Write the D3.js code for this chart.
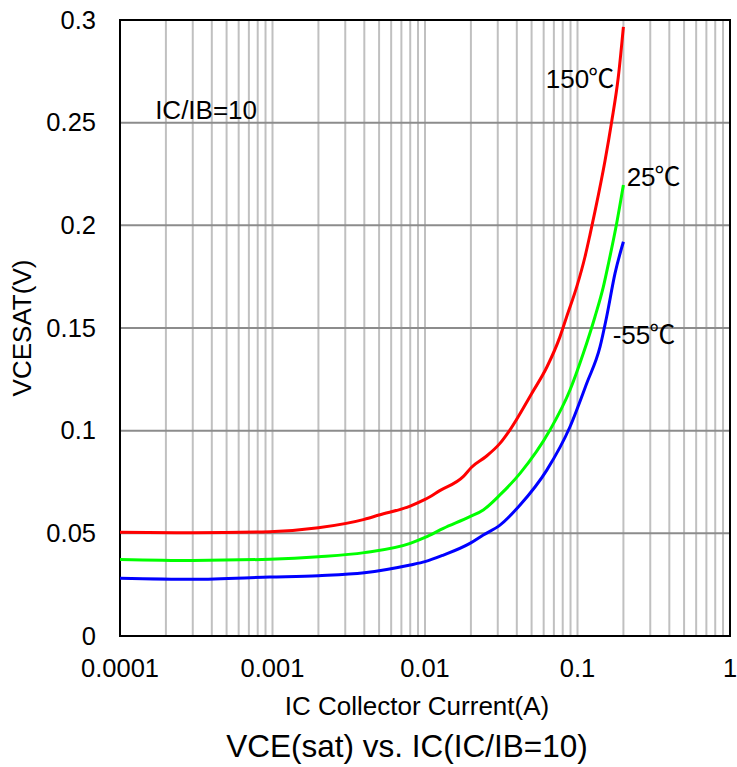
<!DOCTYPE html>
<html>
<head>
<meta charset="utf-8">
<script src="https://cdn.jsdelivr.net/npm/d3@7"></script>
<style>
  body { margin: 0; background: #fff; }
  text { font-family: "Liberation Sans", Arial, "Noto Sans CJK JP", sans-serif; fill: #000; }
  .deg { font-family: "Noto Sans CJK JP", sans-serif; }
</style>
</head>
<body>
<div class="chart"></div>
<script>
"use strict";

const MARGIN = { top: 20, right: 7, bottom: 131, left: 120 };
const WIDTH = 737 - MARGIN.left - MARGIN.right,
  HEIGHT = 767 - MARGIN.top - MARGIN.bottom;

// x tick labels (log axis) and y ticks
const xTicks = [0.0001, 0.001, 0.01, 0.1, 1];
const xTickLabels = ["0.0001", "0.001", "0.01", "0.1", "1"];
const yTicks = [0, 0.05, 0.1, 0.15, 0.2, 0.25, 0.3];
const yTickLabels = ["0", "0.05", "0.1", "0.15", "0.2", "0.25", "0.3"];

// IC (A) -> VCE(sat) (V)
const ic150 = [0.0001, 0.0003, 0.00096, 0.002, 0.004, 0.005, 0.008, 0.01, 0.0125, 0.0178, 0.0202, 0.025, 0.031, 0.036, 0.05, 0.063, 0.0768, 0.0849, 0.0988, 0.112, 0.1208, 0.1302, 0.1515, 0.1675, 0.185, 0.2];
const v150 = [0.0505, 0.0503, 0.0508, 0.0527, 0.0568, 0.0589, 0.0633, 0.0665, 0.0708, 0.0776, 0.0822, 0.0873, 0.0938, 0.1003, 0.118, 0.131, 0.1458, 0.1555, 0.17, 0.1847, 0.1955, 0.2068, 0.2315, 0.2505, 0.272, 0.2967];

const ic25 = [0.0001, 0.0003, 0.00096, 0.002, 0.004, 0.008, 0.01, 0.0132, 0.0197, 0.0241, 0.031, 0.042, 0.066, 0.0893, 0.1092, 0.1302, 0.1477, 0.1592, 0.1807, 0.2];
const v25 = [0.0373, 0.0368, 0.0374, 0.0386, 0.0406, 0.0451, 0.048, 0.0524, 0.0581, 0.0614, 0.0687, 0.0792, 0.1003, 0.1198, 0.1377, 0.1555, 0.17, 0.181, 0.201, 0.2196];

const icm55 = [0.0001, 0.0003, 0.00096, 0.002, 0.004, 0.008, 0.01, 0.0132, 0.0197, 0.0241, 0.031, 0.042, 0.0629, 0.0893, 0.115, 0.1406, 0.1553, 0.1762, 0.2];
const vm55 = [0.0281, 0.0276, 0.0287, 0.0294, 0.0308, 0.0346, 0.0362, 0.0394, 0.0451, 0.0492, 0.054, 0.0638, 0.0808, 0.1019, 0.1231, 0.1409, 0.1555, 0.1766, 0.192];

const seriesNames = ["150", "25", "-55"];
const seriesUnit = "℃";
const seriesColors = ["#ff0000", "#00ff00", "#0000ff"];

const series = [
  { name: seriesNames[0], color: seriesColors[0], pts: ic150.map((d, i) => [d, v150[i]]) },
  { name: seriesNames[1], color: seriesColors[1], pts: ic25.map((d, i) => [d, v25[i]]) },
  { name: seriesNames[2], color: seriesColors[2], pts: icm55.map((d, i) => [d, vm55[i]]) },
];

const xScale = d3.scaleLog().domain([0.0001, 1]).range([0, WIDTH]);
const yScale = d3.scaleLinear().domain([0, 0.3]).range([HEIGHT, 0]);

// minor grid values 1..9 x 10^k
const minorX = [];
for (let k = -4; k < 0; k++) {
  for (let m = 1; m <= 9; m++) minorX.push(m * Math.pow(10, k));
}

const svg = d3
  .select(".chart")
  .append("svg")
  .attr("width", WIDTH + MARGIN.left + MARGIN.right)
  .attr("height", HEIGHT + MARGIN.top + MARGIN.bottom)
  .append("g")
  .attr("transform", "translate(" + MARGIN.left + "," + MARGIN.top + ")");

// vertical grid
svg
  .append("g")
  .selectAll("line")
  .data(minorX.filter((d) => d > 0.0001))
  .enter()
  .append("line")
  .attr("x1", (d) => xScale(d))
  .attr("x2", (d) => xScale(d))
  .attr("y1", 0)
  .attr("y2", HEIGHT)
  .style("stroke", "#c0c0c0")
  .style("stroke-width", 2);

// horizontal grid
svg
  .append("g")
  .selectAll("line")
  .data(yTicks.filter((d) => d > 0 && d < 0.3))
  .enter()
  .append("line")
  .attr("x1", 0)
  .attr("x2", WIDTH)
  .attr("y1", (d) => yScale(d))
  .attr("y2", (d) => yScale(d))
  .style("stroke", "#8c8c8c")
  .style("stroke-width", 2);

// frame
svg
  .append("rect")
  .attr("width", WIDTH)
  .attr("height", HEIGHT)
  .style("fill", "none")
  .style("stroke", "#000")
  .style("stroke-width", 2);

// curves
const line = d3
  .line()
  .x((d) => xScale(d[0]))
  .y((d) => yScale(d[1]))
  .curve(d3.curveMonotoneX);

svg
  .selectAll(".curve")
  .data(series)
  .enter()
  .append("path")
  .attr("class", "curve")
  .attr("d", (d) => line(d.pts))
  .style("fill", "none")
  .style("stroke", (d) => d.color)
  .style("stroke-width", 3);

// tick labels
svg
  .selectAll(".xt")
  .data(xTicks)
  .enter()
  .append("text")
  .attr("class", "xt")
  .attr("x", (d) => xScale(d))
  .attr("y", HEIGHT + 41)
  .attr("text-anchor", "middle")
  .style("font-size", "25.5px")
  .text((d, i) => xTickLabels[i]);

svg
  .selectAll(".yt")
  .data(yTicks)
  .enter()
  .append("text")
  .attr("class", "yt")
  .attr("x", -24)
  .attr("y", (d) => yScale(d) + 8.5)
  .attr("text-anchor", "end")
  .style("font-size", "25.5px")
  .text((d, i) => yTickLabels[i]);

// axis titles
svg
  .append("text")
  .attr("x", 297)
  .attr("y", HEIGHT + 79)
  .attr("text-anchor", "middle")
  .style("font-size", "26px")
  .text("IC Collector Current(A)");

svg
  .append("text")
  .attr("transform", `translate(-89, ${HEIGHT / 2}) rotate(-90)`)
  .attr("text-anchor", "middle")
  .style("font-size", "26px")
  .text("VCESAT(V)");

svg
  .append("text")
  .attr("x", 287)
  .attr("y", HEIGHT + 121)
  .attr("text-anchor", "middle")
  .style("font-size", "31.5px")
  .text("VCE(sat) vs. IC(IC/IB=10)");

// annotations
svg
  .append("text")
  .attr("x", xScale(0.00017))
  .attr("y", yScale(0.252))
  .style("font-size", "26px")
  .text("IC/IB=10");

const labelPos = [
  { x: 0.062, y: 0.267 },
  { x: 0.21, y: 0.219 },
  { x: 0.17, y: 0.142 },
];

const lbl = svg
  .selectAll(".lbl")
  .data(series)
  .enter()
  .append("text")
  .attr("class", "lbl")
  .attr("x", (d, i) => xScale(labelPos[i].x))
  .attr("y", (d, i) => yScale(labelPos[i].y))
  .style("font-size", "26px");

lbl.append("tspan").text((d) => d.name);
lbl
  .append("tspan")
  .attr("class", "deg")
  .attr("dx", -1)
  .text(seriesUnit);
</script>
</body>
</html>
